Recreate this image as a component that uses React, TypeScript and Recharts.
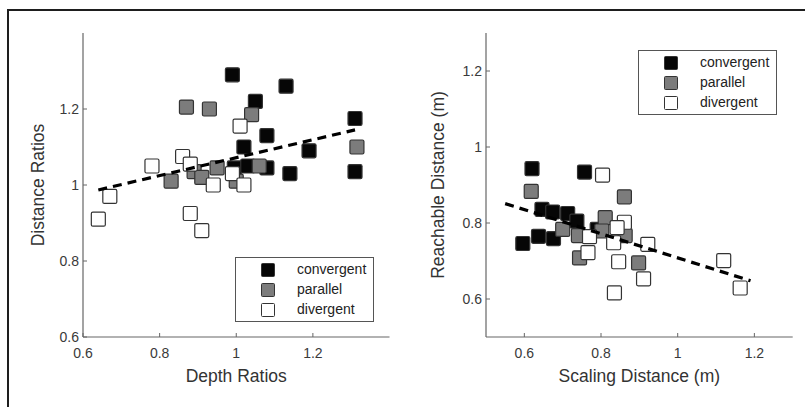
import React from 'react';
import { ScatterChart, Scatter, XAxis, YAxis, Legend } from 'recharts';

const FONT = '"Liberation Sans", Arial, Helvetica, sans-serif';

// ---- Left panel: Depth Ratios vs Distance Ratios ----
const depthConvergent = [0.99, 1.13, 1.05, 1.31, 1.08, 1.02, 1.19, 0.995, 1.03, 1.08, 1.14, 1.31];
const distConvergent = [1.29, 1.26, 1.22, 1.175, 1.13, 1.1, 1.09, 1.045, 1.05, 1.045, 1.03, 1.035];

const depthParallel = [0.87, 0.93, 1.04, 1.315, 1.06, 0.95, 0.83, 0.89, 0.91, 1.0];
const distParallel = [1.205, 1.2, 1.185, 1.1, 1.05, 1.045, 1.01, 1.035, 1.02, 1.01];

const depthDivergent = [1.01, 0.86, 0.78, 0.88, 0.99, 0.94, 1.02, 0.67, 0.64, 0.88, 0.91];
const distDivergent = [1.155, 1.075, 1.05, 1.055, 1.03, 1.0, 1.0, 0.97, 0.91, 0.925, 0.88];

const depthFitX = [0.64, 1.31];
const depthFitY = [0.987, 1.145];

// ---- Right panel: Scaling Distance vs Reachable Distance ----
const scaleConvergent = [0.62, 0.757, 0.646, 0.674, 0.713, 0.737, 0.596, 0.637, 0.676, 0.79];
const reachConvergent = [0.943, 0.934, 0.836, 0.829, 0.825, 0.805, 0.746, 0.765, 0.759, 0.783];

const scaleParallel = [0.618, 0.861, 0.811, 0.7, 0.741, 0.802, 0.863, 0.744, 0.898];
const reachParallel = [0.883, 0.869, 0.814, 0.783, 0.767, 0.779, 0.767, 0.708, 0.695];

const scaleDivergent = [0.804, 0.861, 0.77, 0.833, 0.766, 0.922, 0.846, 0.911, 0.835, 1.12, 1.163, 0.842];
const reachDivergent = [0.926, 0.802, 0.764, 0.748, 0.722, 0.744, 0.698, 0.653, 0.616, 0.701, 0.629, 0.788];

const scaleFitX = [0.55, 1.19];
const scaleFitY = [0.851, 0.648];

// ---- Axis ticks ----
const depthTicks = [0.6, 0.8, 1, 1.2];
const distTicks = [0.6, 0.8, 1, 1.2];
const scaleTicks = [0.6, 0.8, 1, 1.2];
const reachTicks = [0.6, 0.8, 1, 1.2];

const GROUPS = [
  { name: 'convergent', fill: '#060606' },
  { name: 'parallel', fill: '#7c7c7c' },
  { name: 'divergent', fill: '#ffffff' },
];

type Pt = { x: number; y: number };
const zip = (xs: number[], ys: number[]): Pt[] => xs.map((x, i) => ({ x, y: ys[i] }));
const fmt = (v: number) => String(Math.round(v * 10) / 10);

const squareShape = (fill: string) => (props: any) => {
  const { cx, cy } = props;
  if (cx == null || cy == null) return <g />;
  return (
    <rect
      x={cx - 7}
      y={cy - 7}
      width={14}
      height={14}
      rx={1.5}
      fill={fill}
      stroke="#333"
      strokeWidth={1.2}
    />
  );
};

const emptyShape = () => <g />;

const LegendBox = () => (
  <div
    style={{
      position: 'relative',
      width: 137,
      height: 63,
      border: '1px solid #555',
      background: '#fff',
      fontFamily: FONT,
      fontSize: 14,
      color: '#222',
    }}
  >
    {GROUPS.map((g, i) => (
      <React.Fragment key={g.name}>
        <div
          style={{
            position: 'absolute',
            left: 25,
            top: 5 + i * 20,
            width: 12,
            height: 12,
            background: g.fill,
            border: '1px solid #333',
            borderRadius: 1.5,
          }}
        />
        <div
          style={{
            position: 'absolute',
            left: 61,
            top: 3 + i * 20,
            lineHeight: '16px',
            whiteSpace: 'nowrap',
          }}
        >
          {g.name}
        </div>
      </React.Fragment>
    ))}
  </div>
);

type PanelProps = {
  left: number;
  width: number;
  yAxisWidth: number;
  rightMargin: number;
  xDomain: [number, number];
  yDomain: [number, number];
  xTicks: number[];
  yTicks: number[];
  xLabel: string;
  yLabel: string;
  groups: Pt[][];
  fit: Pt[];
  legendLeft: number;
  legendTop: number;
};

function Panel(p: PanelProps) {
  const tickStyle = { fill: '#3a3a3a', fontSize: 14, fontFamily: FONT };
  const titleStyle = { fill: '#333', fontSize: 17.5, fontFamily: FONT };
  return (
    <div style={{ position: 'absolute', left: p.left, top: 0 }}>
      <ScatterChart
        width={p.width}
        height={407}
        margin={{ top: 33, right: p.rightMargin, bottom: 42, left: 0 }}
      >
        <XAxis
          type="number"
          dataKey="x"
          domain={p.xDomain}
          ticks={p.xTicks}
          allowDataOverflow
          tickFormatter={fmt}
          tickSize={-4}
          tickMargin={15}
          height={28}
          axisLine={{ stroke: '#666', strokeWidth: 1.2 }}
          tickLine={{ stroke: '#666' }}
          tick={tickStyle}
          label={{ value: p.xLabel, position: 'bottom', offset: 5, style: titleStyle }}
        />
        <YAxis
          type="number"
          dataKey="y"
          domain={p.yDomain}
          ticks={p.yTicks}
          allowDataOverflow
          tickFormatter={fmt}
          tickSize={-4}
          tickMargin={8}
          width={p.yAxisWidth}
          axisLine={{ stroke: '#666', strokeWidth: 1.2 }}
          tickLine={{ stroke: '#666' }}
          tick={tickStyle}
          label={{
            value: p.yLabel,
            angle: -90,
            position: 'insideLeft',
            offset: 38,
            style: { ...titleStyle, textAnchor: 'middle' },
          }}
        />
        {p.groups.map((data, i) => (
          <Scatter
            key={GROUPS[i].name}
            name={GROUPS[i].name}
            data={data}
            fill={GROUPS[i].fill}
            shape={squareShape(GROUPS[i].fill)}
            isAnimationActive={false}
          />
        ))}
        <Scatter
          name="fit"
          data={p.fit}
          shape={emptyShape}
          line={{ stroke: '#000', strokeWidth: 3.2, strokeDasharray: '9 6' }}
          lineType="joint"
          legendType="none"
          isAnimationActive={false}
        />
        <Legend
          layout="horizontal"
          verticalAlign="middle"
          align="center"
          content={() => <LegendBox />}
          wrapperStyle={{ left: p.legendLeft, top: p.legendTop, width: 139, height: 65 }}
        />
      </ScatterChart>
    </div>
  );
}

export default function App() {
  return (
    <div
      style={{
        position: 'absolute',
        left: 0,
        top: 0,
        width: 805,
        height: 407,
        background: '#fff',
        overflow: 'hidden',
      }}
    >
      <div style={{ position: 'absolute', left: 7, top: 9, width: 798, height: 2, background: '#1e1e1e' }} />
      <div style={{ position: 'absolute', left: 7, top: 9, width: 2, height: 398, background: '#1e1e1e' }} />
      <Panel
        left={0}
        width={400}
        yAxisWidth={83}
        rightMargin={10.5}
        xDomain={[0.6, 1.4]}
        yDomain={[0.6, 1.4]}
        xTicks={depthTicks}
        yTicks={distTicks}
        xLabel="Depth Ratios"
        yLabel="Distance Ratios"
        groups={[
          zip(depthConvergent, distConvergent),
          zip(depthParallel, distParallel),
          zip(depthDivergent, distDivergent),
        ]}
        fit={zip(depthFitX, depthFitY)}
        legendLeft={235}
        legendTop={257}
      />
      <Panel
        left={400}
        width={405}
        yAxisWidth={86}
        rightMargin={12.3}
        xDomain={[0.5, 1.3]}
        yDomain={[0.5, 1.3]}
        xTicks={scaleTicks}
        yTicks={reachTicks}
        xLabel="Scaling Distance (m)"
        yLabel="Reachable Distance (m)"
        groups={[
          zip(scaleConvergent, reachConvergent),
          zip(scaleParallel, reachParallel),
          zip(scaleDivergent, reachDivergent),
        ]}
        fit={zip(scaleFitX, scaleFitY)}
        legendLeft={238}
        legendTop={50}
      />
    </div>
  );
}
